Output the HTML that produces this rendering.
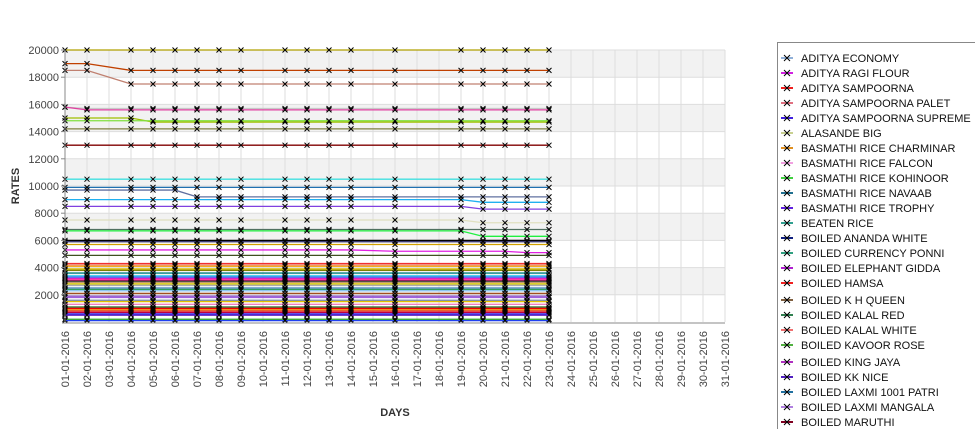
<!DOCTYPE html>
<html><head><meta charset="utf-8"><style>
body{margin:0;background:#fff;font-family:"Liberation Sans","DejaVu Sans",sans-serif;}
svg{display:block}
</style></head><body>
<svg id="chart" width="975" height="429" xmlns="http://www.w3.org/2000/svg"></svg>
<script>
const days=[1,2,4,5,6,7,8,9,11,12,13,14,16,19,20,21,22,23];
const tickLabels=["01-01-2016","02-01-2016","03-01-2016","04-01-2016","05-01-2016","06-01-2016","07-01-2016","08-01-2016","09-01-2016","10-01-2016","11-01-2016","12-01-2016","13-01-2016","14-01-2016","15-01-2016","16-01-2016","17-01-2016","18-01-2016","19-01-2016","20-01-2016","21-01-2016","22-01-2016","23-01-2016","24-01-2016","25-01-2016","26-01-2016","27-01-2016","28-01-2016","29-01-2016","30-01-2016","31-01-2016"];
const yTicks=[2000,4000,6000,8000,10000,12000,14000,16000,18000,20000];
const legendNames=["ADITYA ECONOMY","ADITYA RAGI FLOUR","ADITYA SAMPOORNA","ADITYA SAMPOORNA PALET","ADITYA SAMPOORNA SUPREME","ALASANDE BIG","BASMATHI RICE CHARMINAR","BASMATHI RICE FALCON","BASMATHI RICE KOHINOOR","BASMATHI RICE NAVAAB","BASMATHI RICE TROPHY","BEATEN RICE","BOILED ANANDA WHITE","BOILED CURRENCY PONNI","BOILED ELEPHANT GIDDA","BOILED HAMSA","BOILED K H QUEEN","BOILED KALAL RED","BOILED KALAL WHITE","BOILED KAVOOR ROSE","BOILED KING JAYA","BOILED KK NICE","BOILED LAXMI 1001 PATRI","BOILED LAXMI MANGALA","BOILED MARUTHI"];
const legendColors=["#90b0d8","#d020e0","#f02020","#e07080","#4020e0","#c8d090","#e09020","#f0a0e0","#40d040","#207090","#6020e0","#30a090","#102080","#30a080","#b020d0","#f02020","#806040","#308050","#f07070","#50b040","#b030c0","#5020c0","#2070a0","#b080e0","#800020"];
// series values per day (one array per series)
const s01=[20000,20000,20000,20000,20000,20000,20000,20000,20000,20000,20000,20000,20000,20000,20000,20000,20000,20000];
const s02=[19000,19000,18500,18500,18500,18500,18500,18500,18500,18500,18500,18500,18500,18500,18500,18500,18500,18500];
const s03=[18500,18500,17500,17500,17500,17500,17500,17500,17500,17500,17500,17500,17500,17500,17500,17500,17500,17500];
const s04=[15800,15700,15700,15700,15700,15700,15700,15700,15700,15700,15700,15700,15700,15700,15700,15700,15700,15700];
const s05=[15800,15600,15600,15600,15600,15600,15600,15600,15600,15600,15600,15600,15600,15600,15600,15600,15600,15600];
const s06=[15000,15000,15000,14700,14700,14700,14700,14700,14700,14700,14700,14700,14700,14700,14700,14700,14700,14700];
const s07=[14800,14800,14800,14800,14800,14800,14800,14800,14800,14800,14800,14800,14800,14800,14800,14800,14800,14800];
const s08=[14200,14200,14200,14200,14200,14200,14200,14200,14200,14200,14200,14200,14200,14200,14200,14200,14200,14200];
const s09=[13000,13000,13000,13000,13000,13000,13000,13000,13000,13000,13000,13000,13000,13000,13000,13000,13000,13000];
const s10=[10500,10500,10500,10500,10500,10500,10500,10500,10500,10500,10500,10500,10500,10500,10500,10500,10500,10500];
const s11=[9900,9900,9900,9900,9900,9900,9900,9900,9900,9900,9900,9900,9900,9900,9900,9900,9900,9900];
const s12=[9700,9700,9700,9700,9700,9200,9200,9200,9200,9200,9200,9200,9200,9200,9200,9200,9200,9200];
const s13=[9000,9000,9000,9000,9000,9000,9000,9000,9000,9000,9000,9000,9000,9000,8800,8800,8800,8800];
const s14=[8500,8500,8500,8500,8500,8500,8500,8500,8500,8500,8500,8500,8500,8500,8300,8300,8300,8300];
const s15=[7500,7500,7500,7500,7500,7500,7500,7500,7500,7500,7500,7500,7500,7500,7300,7300,7300,7300];
const s16=[6800,6800,6800,6800,6800,6800,6800,6800,6800,6800,6800,6800,6800,6800,6800,6800,6800,6800];
const s17=[6700,6700,6700,6700,6700,6700,6700,6700,6700,6700,6700,6700,6700,6700,6300,6300,6300,6300];
const s18=[6000,6000,6000,6000,6000,6000,6000,6000,6000,6000,6000,6000,6000,6000,6000,6000,6000,6000];
const s19=[5900,5900,5900,5900,5900,5900,5900,5900,5900,5900,5900,5900,5900,5900,5900,5900,5900,5900];
const s20=[5700,5700,5700,5700,5700,5700,5700,5700,5700,5700,5700,5700,5700,5700,5700,5700,5700,5700];
const s21=[5300,5300,5300,5300,5300,5300,5300,5300,5300,5300,5300,5300,5200,5200,5200,5200,5100,5100];
const s22=[4900,4900,4900,4900,4900,4900,4900,4900,4900,4900,4900,4900,4900,4900,4900,4900,4900,4900];
const lowLevels=[4300,4200,4100,3900,3800,3600,3400,3300,3200,3100,3000,2900,2800,2700,2500,2400,2300,2100,1900,1800,1600,1500,1300,1100,1000,900,800,700,600,500,200,100];
const series=[s01,s02,s03,s04,s05,s06,s07,s08,s09,s10,s11,s12,s13,s14,s15,s16,s17,s18,s19,s20,s21,s22];
const seriesColors=["#b0a000","#c04000","#c08070","#c8c8c8","#e040a0","#a0c000","#80e040","#808040","#800000","#40e0e0","#2070b0","#6070a0","#20b0f0","#8040e0","#e0e0c0","#507060","#20f040","#000000","#202060","#d0a000","#e020e0","#405020"];
const lowColors=["#f03030","#f08070","#f0a000","#e0c000","#808000","#008080","#30d0f0","#3050f0","#e020c0","#ff1090","#303030","#c0a070","#e0d000","#a0a0a0","#4080c0","#30a060","#80c0f0","#a05020","#8040c0","#a060e0","#7080a0","#e0c000","#f080c0","#206020","#f00000","#f08000","#e02020","#c00040","#3030f0","#6020c0","#20a020","#2040f0"];

const svg=document.getElementById('chart');
const NS="http://www.w3.org/2000/svg";
const X0=65,XS=22,Y0=322,YT=50;
const xS=d=>X0+(d-1)*XS;
const yS=v=>Y0-(v/20000)*(Y0-YT);
function mk(tag,attrs,parent){const e=document.createElementNS(NS,tag);for(const k in attrs)e.setAttribute(k,attrs[k]);(parent||svg).appendChild(e);return e;}

const plot=mk('g',{});


// bands
for(let i=0;i<yTicks.length;i+=2){
  const r=mk('rect',{x:X0,y:yS(yTicks[i+1]),width:660,height:yS(yTicks[i])-yS(yTicks[i+1]),fill:'#f2f2f2'},plot);
  
  
}
for(let d=1;d<=31;d++){
  const l=mk('line',{x1:xS(d),x2:xS(d),y1:YT,y2:Y0,stroke:'#dddddd','stroke-width':1},plot);
  
  
}
yTicks.forEach(v=>{
  const l=mk('line',{x1:X0,x2:725,y1:yS(v),y2:yS(v),stroke:'#dddddd','stroke-width':1},plot);
  
  
});
function drawSeries(vals,color){
  const g=mk('g',{},plot);
  
  
  mk('polyline',{points:vals.map((v,i)=>xS(days[i])+','+yS(v)).join(' '),fill:'none',stroke:color,'stroke-width':1.3},g);
  vals.forEach((v,i)=>{
    const x=xS(days[i]),y=yS(v);
    const m=mk('path',{d:`M${x-2.5},${y-2.5}L${x+2.5},${y+2.5}M${x-2.5},${y+2.5}L${x+2.5},${y-2.5}`,stroke:'#000','stroke-width':1},g);
    
    
  });
}
series.forEach((s,i)=>drawSeries(s,seriesColors[i]));
lowLevels.forEach((v,i)=>drawSeries(days.map(()=>v),lowColors[i]));
// axes
mk('line',{x1:X0,x2:X0,y1:YT,y2:Y0,stroke:'#888'});
const xa=mk('line',{x1:X0-3,x2:725,y1:Y0+1,y2:Y0+1,stroke:'#888'});


yTicks.forEach(v=>{
  mk('line',{x1:X0-4,x2:X0,y1:yS(v),y2:yS(v),stroke:'#888'});
  const t=mk('text',{x:X0-6,y:yS(v)+4,'text-anchor':'end','font-size':11,fill:'#444'});
  t.textContent=v;
  
  
});
tickLabels.forEach((lab,i)=>{
  const x=xS(i+1);
  const t=mk('text',{transform:`translate(${x+4},${Y0+9}) rotate(-90)`,'text-anchor':'end','font-size':11,fill:'#444'});
  t.textContent=lab;
  
  
});
const yt=mk('text',{transform:'translate(19,186) rotate(-90)','text-anchor':'middle','font-size':11,'font-weight':'bold',fill:'#333'});
yt.textContent='RATES';


const xt=mk('text',{x:395,y:416,'text-anchor':'middle','font-size':11,'font-weight':'bold',fill:'#333'});
xt.textContent='DAYS';


// legend
const lg=mk('g',{});


mk('rect',{x:777.5,y:42.5,width:210,height:400,fill:'#fff',stroke:'#888'},lg);
const ly=[58,73,88,103,118,133,148,163,178,193,208,223,238,253,268,283,300,315,330,345,362,377,392,407,422];
legendNames.forEach((n,i)=>{
  const g=mk('g',{},lg);
  
  
  const y=ly[i];
  mk('line',{x1:781,x2:793,y1:y,y2:y,stroke:legendColors[i],'stroke-width':2},g);
  mk('path',{d:`M${784},${y-3}L${790},${y+3}M${784},${y+3}L${790},${y-3}`,stroke:'#000','stroke-width':1},g);
  const t=mk('text',{x:801,y:y+4,'font-size':11,fill:'#111'},g);
  t.textContent=n;
});
</script>
</body></html>
